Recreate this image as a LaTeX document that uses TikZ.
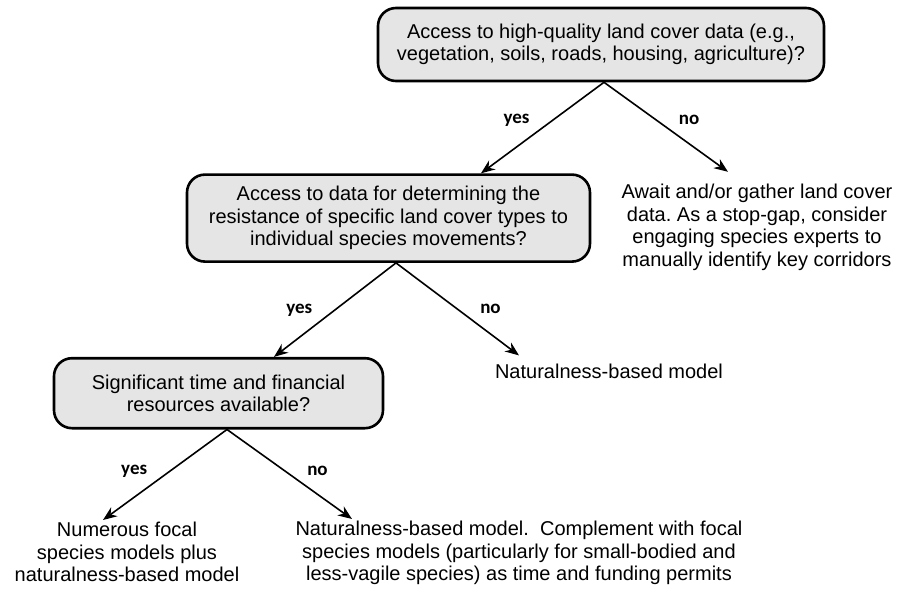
\documentclass[tikz,border=0pt]{standalone}
\usepackage{fontspec}
\setmainfont{Liberation Sans}
\newfontfamily\answerfont{Carlito}
\usetikzlibrary{arrows.meta, positioning}
\frenchspacing

\begin{document}
\begin{tikzpicture}[
    node distance=45pt,
    decision/.style={rectangle, draw, line width=1.3pt, fill=gray!20, rounded corners=9pt, align=center, inner sep=0pt, font=\fontsize{10}{11.25}\selectfont},
    outcome/.style={align=center, inner xsep=0pt, inner ysep=1pt, font=\fontsize{10}{11.25}\selectfont},
    answer/.style={inner sep=0pt, font=\answerfont\bfseries\fontsize{9.5}{10}\selectfont},
    line/.style={draw, -{Stealth[length=7pt, width=5.5pt]}, thick}
]
    \useasboundingbox (-300.5pt,22.25pt) rectangle (155.5pt,-272.25pt);

    % Nodes
    \node (access) [decision, minimum width=223pt, minimum height=36.5pt] {Access to high-quality land cover data (e.g.,\\ vegetation, soils, roads, housing, agriculture)?};
    \node (resist) [decision, minimum width=201.5pt, minimum height=43.5pt, below=45.5pt of access, xshift=-106.25pt] {Access to data for determining the\\ resistance of specific land cover types to\\ individual species movements?};
    \node (await) [outcome, inner ysep=6pt, below=44.75pt of access, xshift=78pt] {Await and/or gather land cover\\ data. As a stop-gap, consider\\ engaging species experts to\\ manually identify key corridors};
    \node (budget) [decision, minimum width=164.5pt, minimum height=35pt, below=47pt of resist, xshift=-85pt] {Significant time and financial\\ resources available?};
    \node (natmodel) [outcome, inner ysep=4pt, below=46.25pt of resist, xshift=110.25pt] {Naturalness-based model};
    \node (focal) [outcome, below=45.25pt of budget, xshift=-45.75pt] {Numerous focal\\ species models plus\\ naturalness-based model};
    \node (mixed) [outcome, below=44.75pt of budget, xshift=150.25pt] {Naturalness-based model.~~Complement with focal\\ species models (particularly for small-bodied and\\ less-vagile species) as time and funding permits};

    % Paths
    \path [line] ([xshift=1.5pt]access.south) -- node[answer, pos=0.42, left=11pt] (yes1) {yes} ([xshift=46.25pt]resist.north);
    \path [line] ([xshift=1.5pt]access.south) -- node[answer, pos=0.42, right=11pt] (no1) {no} ([xshift=-14.5pt]await.north);
    \path [line] ([xshift=3.75pt]resist.south) -- node[answer, pos=0.5, left=11pt] (yes2) {yes} ([xshift=27.75pt]budget.north);
    \path [line] ([xshift=3.75pt]resist.south) -- node[answer, pos=0.5, right=11pt] (no2) {no} ([xshift=-45pt]natmodel.north);
    \path [line] ([xshift=4.25pt]budget.south) -- node[answer, pos=0.46, left=11pt] (yes3) {yes} ([xshift=-12pt]focal.north);
    \path [line] ([xshift=4.25pt]budget.south) -- node[answer, pos=0.46, right=11pt] (no3) {no} ([xshift=-83.5pt]mixed.north);
\end{tikzpicture}
\end{document}
